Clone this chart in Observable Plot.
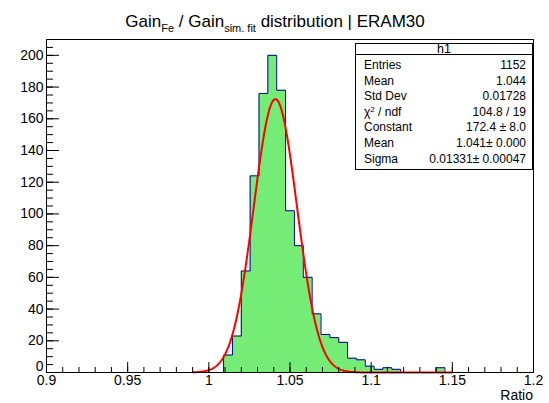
<!DOCTYPE html>
<html><head><meta charset="utf-8">
<script src="https://cdn.jsdelivr.net/npm/d3@7"></script>
<script src="https://cdn.jsdelivr.net/npm/@observablehq/plot@0.6"></script>
<style>
body{margin:0;background:#fff;}
#chart{position:relative;width:549px;height:403px;}
</style></head><body><div id="chart"></div>
<script>
// ---- data ----
const histRange = [0.9, 1.2];
const nBins = 55;
const firstFilledBin = 20;
const binCounts = [11, 23, 64, 124, 176, 200, 178, 102, 80, 60, 37, 24, 22, 19, 9, 8, 4, 2, 3, 2, 0, 0, 0, 0, 3];
const xTickValues = [0.9, 0.95, 1, 1.05, 1.1, 1.15, 1.2];
const yTickValues = [0, 20, 40, 60, 80, 100, 120, 140, 160, 180, 200];
const yMax = 210;
const fitConstant = 172.4;
const fitMean = 1.041;
const fitSigma = 0.01331;
const fitRange = [0.99, 1.15];
const statsTitle = "h1";
const statsLabels = ["Entries", "Mean", "Std Dev", "CHI2", "Constant", "Mean", "Sigma"];
const statsValues = ["1152", "1.044", "0.01728", "104.8 / 19", "172.4 \u00b1 8.0", "1.041\u00b1 0.000", "0.01331\u00b1 0.00047"];
const xAxisTitle = "Ratio";

// ---- derived ----
const binW = (histRange[1] - histRange[0]) / nBins;
const bins = binCounts.map((c, i) => ({
  x1: histRange[0] + (firstFilledBin + i) * binW,
  x2: histRange[0] + (firstFilledBin + i + 1) * binW,
  count: c
}));
const outline = [{x: bins[0].x1, y: 0}]
  .concat(bins.map(b => ({x: b.x1, y: b.count})))
  .concat([{x: bins[bins.length - 1].x2, y: 0}]);
const fitPts = d3.range(0, 401).map(i => {
  const x = fitRange[0] + i * (fitRange[1] - fitRange[0]) / 400;
  return {x, y: fitConstant * Math.exp(-0.5 * ((x - fitMean) / fitSigma) ** 2)};
});
const xMinor = d3.range(0, 31).map(i => +(histRange[0] + i * 0.01).toFixed(3));
const yMinor = d3.range(0, yMax + 1, 5);

const W = 549, H = 403, mL = 46, mR = 16, mT = 39, mB = 31;
const fw = W - mL - mR, fh = H - mT - mB;
const green = "rgb(117,236,117)";
const navy = "#000099";

const plot = Plot.plot({
  width: W, height: H,
  marginLeft: mL, marginRight: mR, marginTop: mT, marginBottom: mB,
  style: {fontFamily: "'Liberation Sans', Arial, Helvetica, sans-serif", fontSize: "14px", color: "black", background: "white"},
  x: {domain: histRange},
  y: {domain: [0, yMax]},
  marks: [
    Plot.areaY(outline, {x: "x", y: "y", curve: "step-after", fill: green}),
    Plot.line(outline, {x: "x", y: "y", curve: "step-after", stroke: navy, strokeWidth: 1}),
    Plot.line(fitPts, {x: "x", y: "y", stroke: "red", strokeWidth: 2}),
    Plot.tickX(xMinor, {x: d => d, insetTop: fh - 5, stroke: "black"}),
    Plot.tickX(xTickValues, {x: d => d, insetTop: fh - 10, stroke: "black"}),
    Plot.tickY(yMinor, {y: d => d, insetRight: fw - 7, stroke: "black"}),
    Plot.tickY(yTickValues, {y: d => d, insetRight: fw - 13, stroke: "black"}),
    Plot.axisX(xTickValues, {tickSize: 0, tickPadding: 3, fontSize: 14, label: null, tickFormat: d => String(d)}),
    Plot.axisY(yTickValues.filter(v => v > 0), {tickSize: 0, tickPadding: 3, fontSize: 14, label: null}),
    Plot.axisY(yTickValues.filter(v => v === 0), {tickSize: 0, tickPadding: 3, fontSize: 14, label: null, dy: -6}),
    Plot.frame({stroke: "black"})
  ]
});
document.getElementById("chart").appendChild(plot);

const svg = d3.select(plot);
const font = "'Liberation Sans', Arial, Helvetica, sans-serif";

// title
const t = svg.append("text").attr("x", 275).attr("y", 27).attr("text-anchor", "middle")
  .attr("font-family", font).attr("font-size", 17).attr("fill", "black");
t.append("tspan").text("Gain");
t.append("tspan").attr("font-size", 11).attr("dy", 5).text("Fe");
t.append("tspan").attr("dy", -5).text(" / Gain");
t.append("tspan").attr("font-size", 11).attr("dy", 5).text("sim. fit");
t.append("tspan").attr("dy", -5).text(" distribution | ERAM30");

// x axis title
svg.append("text").attr("x", 533).attr("y", 400).attr("text-anchor", "end")
  .attr("font-family", font).attr("font-size", 14).attr("fill", "black").text(xAxisTitle);

// stats box
const bx = 355.5, by = 43.5, bw = 177, bh = 126;
const g = svg.append("g").attr("font-family", font).attr("fill", "black");
g.append("rect").attr("x", bx).attr("y", by).attr("width", bw).attr("height", bh)
  .attr("fill", "white").attr("stroke", "black");
g.append("line").attr("x1", bx).attr("x2", bx + bw).attr("y1", 54.5).attr("y2", 54.5).attr("stroke", "black");
g.append("text").attr("x", bx + bw / 2).attr("y", 53).attr("text-anchor", "middle").attr("font-size", 12.5).text(statsTitle);
statsLabels.forEach((lab, i) => {
  const yy = 69 + i * 15.6;
  const tl = g.append("text").attr("x", 364).attr("y", yy).attr("text-anchor", "start").attr("font-size", 12);
  if (lab === "CHI2") {
    tl.append("tspan").text("\u03c7");
    tl.append("tspan").attr("font-size", 8).attr("dy", -4).text("2");
    tl.append("tspan").attr("dy", 4).text(" / ndf");
  } else {
    tl.text(lab);
  }
  g.append("text").attr("x", 526).attr("y", yy).attr("text-anchor", "end").attr("font-size", 12).text(statsValues[i]);
});
</script></body></html>
